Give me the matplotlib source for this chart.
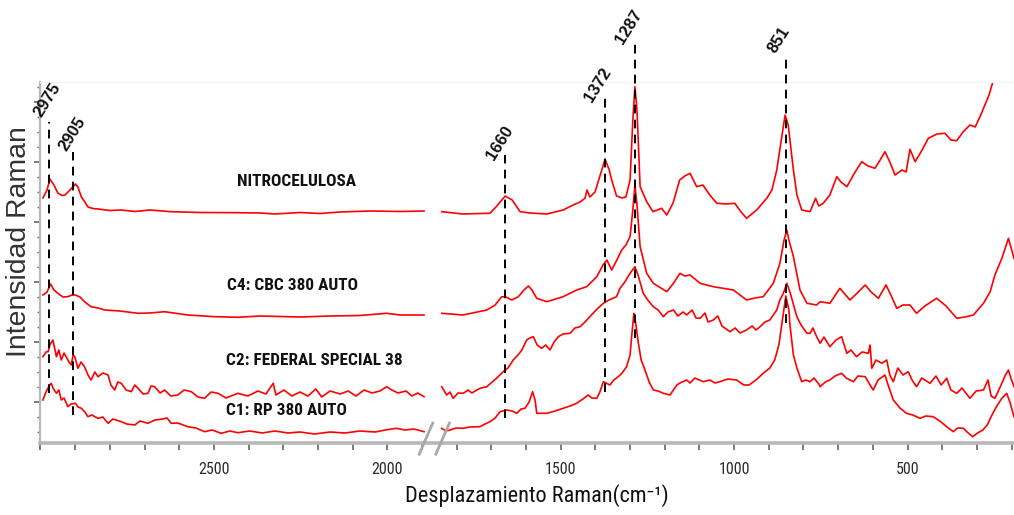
import numpy as np
import matplotlib
matplotlib.use("Agg")
import matplotlib.pyplot as plt
from matplotlib import font_manager
from matplotlib.ticker import FixedLocator, MultipleLocator, NullFormatter
from matplotlib.lines import Line2D

# ---------------------------------------------------------------- data
# Raman shift (cm-1) and relative intensity (a.u., stacked offsets included)
nitro_w = [2993, 2981, 2973, 2961, 2950, 2938, 2929, 2915, 2899, 2892, 2882, 2872, 2863, 2849, 2834,
           2800, 2768, 2728, 2684, 2624, 2540, 2431, 2367, 2324, 2252, 2194, 2136, 2050, 1963, 1894,
           1843, 1782, 1733, 1704, 1684, 1660, 1640, 1617, 1589, 1540, 1493, 1464, 1444, 1430, 1424,
           1416, 1401, 1386, 1372, 1360, 1353, 1339, 1323, 1312, 1300, 1292, 1286, 1280, 1271, 1252,
           1234, 1209, 1194, 1176, 1157, 1142, 1127, 1108, 1090, 1070, 1050, 1023, 998, 980, 964,
           935, 906, 891, 877, 864, 853, 844, 829, 819, 805, 781, 765, 756, 743, 724, 704, 692, 675,
           651, 632, 614, 594, 579, 565, 551, 536, 516, 504, 493, 478, 458, 440, 415, 392, 375, 358,
           340, 320, 305, 291, 277, 265, 255]
nitro_i = [245, 253, 264, 258, 250, 247.5, 248, 253, 259, 256, 246, 241, 236, 234.5, 234,
           232.5, 233, 231.5, 233, 231.3, 230.5, 230.3, 230, 229, 230.5, 229.5, 231, 232, 231.5, 232,
           231.3, 229, 229.5, 229.7, 237, 247, 243, 231.3, 230, 229, 233, 238, 241, 244.7, 253,
           246, 251, 268, 283.7, 273, 263, 247, 245, 246, 263, 323, 356.3, 333, 256.3, 241.3,
           231.3, 234.7, 228, 240, 263, 267, 269.7, 256.3, 258, 248, 239.7, 239, 239.7, 231, 224.7,
           233, 244.7, 253, 273, 303, 328, 318, 273, 248, 233, 231.3, 244.7, 237, 239.7, 248, 266.3, 261, 256.3,
           271, 281.3, 277, 274.7, 283, 291.3, 281, 268, 273, 271, 293.7, 281.3, 293, 304.7, 309, 309.7, 303, 302.3,
           311, 318, 316, 326.3, 338, 348, 359.7]

c4_w = [2993, 2981, 2971, 2961, 2950, 2935, 2921, 2909, 2899, 2886, 2873, 2854, 2834, 2815, 2771,
        2719, 2684, 2642, 2575, 2498, 2431, 2367, 2252, 2165, 2079, 2002, 1963, 1894,
        1843, 1782, 1713, 1689, 1670, 1658, 1641, 1622, 1606, 1593, 1583, 1569, 1540, 1493, 1454,
        1425, 1396, 1378, 1367, 1353, 1341, 1324, 1312, 1300, 1292, 1286, 1280, 1271, 1252, 1233,
        1194, 1175, 1156, 1142, 1127, 1098, 1060, 1002, 964, 940, 916, 887, 868, 856, 848, 842,
        829, 810, 790, 762, 752, 724, 695, 666, 642, 622, 605, 584, 562, 548, 531, 513, 493, 474,
        450, 416, 389, 358, 334, 310, 281, 262, 248, 228, 209, 193]
c4_i = [148, 151, 159, 153, 149.7, 146, 146.3, 148, 148, 146, 141.3, 136.3, 135, 133, 132,
        129.7, 130, 131.3, 128, 126.3, 125.7, 127, 126, 127, 127.5, 129.7, 128, 128,
        129.7, 128, 133, 138, 146.3, 146, 143, 146.3, 153, 157, 153, 144.7, 141.3, 146.3, 153,
        156.3, 166.3, 178, 183, 173, 181, 193, 198, 206.3, 233, 258, 238, 196.3, 169.7, 159.7,
        151.3, 159.7, 169.7, 167, 168, 159.7, 156.3, 153, 143, 145, 146.3, 159.7, 179.7, 203, 213, 203,
        186.3, 153, 139.7, 138, 141.3, 139.7, 154.7, 143, 151, 158, 151, 144.7, 158, 148, 134.7, 138, 138, 129.7,
        137, 144.7, 137, 124.7, 126, 128, 139.7, 151, 168, 184.7, 204.7, 184.7]

c2_w = [2993, 2984, 2978, 2973, 2964, 2954, 2947, 2940, 2932, 2926, 2918, 2911, 2906, 2901, 2892,
        2883, 2873, 2863, 2854, 2843, 2834, 2820, 2805, 2797, 2786, 2777, 2767, 2753, 2738, 2728,
        2719, 2704, 2690, 2681, 2671, 2655, 2642, 2624, 2604, 2586, 2565, 2546, 2527, 2508, 2488,
        2465, 2431, 2402, 2373, 2350, 2329, 2321, 2298, 2275, 2252, 2229, 2206, 2189, 2165, 2136,
        2113, 2090, 2067, 2044, 2021, 2002, 1987, 1969, 1946, 1929, 1912, 1894,
        1843, 1829, 1819, 1810, 1796, 1781, 1767, 1756, 1742, 1730, 1713, 1701, 1685, 1666, 1652,
        1637, 1623, 1612, 1598, 1589, 1579, 1568, 1555, 1543, 1531, 1519, 1507, 1493, 1473, 1459,
        1444, 1430, 1416, 1398, 1377, 1361, 1339, 1329, 1315, 1300, 1286, 1277, 1262, 1249, 1233,
        1219, 1204, 1191, 1175, 1162, 1147, 1137, 1121, 1110, 1098, 1084, 1075, 1060, 1047, 1035,
        1012, 997, 983, 964, 948, 937, 925, 911, 897, 877, 868, 858, 848, 839, 819, 807, 790, 781,
        773, 762, 752, 741, 724, 706, 690, 675, 663, 647, 631, 613, 608, 603, 591, 574, 560, 551,
        541, 528, 513, 498, 487, 474, 459, 435, 418, 403, 387, 375, 358, 343, 320, 302, 281, 268,
        259, 248, 228, 219, 209, 202, 193]
c2_i = [86.3, 91, 91.3, 98, 103, 86.3, 93, 83, 90, 86.3, 81, 78, 88, 86.3, 74.7,
        81, 76.3, 68, 63, 71, 66.3, 70, 68, 58, 53, 61, 59.7, 53, 51.3, 58,
        54.7, 49, 49.7, 57, 56.3, 50, 53, 47, 48, 53, 51.3, 46, 44.7, 51, 49.7,
        45, 49.7, 47, 52, 49, 59.7, 48, 53, 47, 51, 47, 54, 46, 52, 49,
        52, 47, 53, 50, 52, 56.3, 53, 50, 52, 47, 50, 46.3,
        56.3, 48, 51, 44.7, 50, 49.7, 53, 50, 53, 55, 56.3, 60, 64.7, 71.3, 75,
        83, 88, 93, 103, 105, 106.3, 98, 94.7, 98, 93, 101, 106.3, 109, 109.7, 115,
        116.3, 121, 126.3, 133, 139.7, 143, 146.3, 154.7, 161, 169.7, 176.3, 168, 149.7, 143, 136.3,
        133, 126.3, 131, 133, 127, 131, 128, 133, 125, 124.7, 130, 121, 123, 127, 117,
        111.3, 115, 110, 113, 117, 113, 116.3, 121, 123, 133, 143, 149.7, 159.7, 151, 126.3, 118, 109.7, 109.7,
        115, 106.3, 99.7, 106, 96.3, 103, 106.3, 89.7, 93, 86.3, 91, 89.7, 98, 74.7, 83, 79.7, 83, 68,
        61.3, 75, 68, 71.3, 63, 56.3, 65, 59.7, 67, 58, 64.7, 53, 49.7, 55, 44.7, 52, 53, 63,
        47, 44.7, 59.7, 67, 73, 65, 56.3]

c1_w = [2993, 2984, 2975, 2969, 2964, 2954, 2947, 2940, 2932, 2921, 2912, 2899, 2892, 2882, 2872,
        2863, 2852, 2834, 2820, 2805, 2791, 2767, 2751, 2728, 2713, 2690, 2670, 2652, 2635, 2623,
        2604, 2575, 2552, 2527, 2505, 2479, 2454, 2431, 2396, 2361, 2324, 2286, 2252, 2209, 2165,
        2122, 2079, 2035, 2006, 1973, 1949, 1923, 1894,
        1843, 1831, 1819, 1802, 1781, 1762, 1733, 1718, 1704, 1689, 1675, 1656, 1640, 1627, 1614,
        1603, 1591, 1581, 1574, 1569, 1540, 1516, 1493, 1473, 1454, 1436, 1421, 1410, 1396, 1387,
        1377, 1370, 1358, 1347, 1334, 1323, 1310, 1300, 1295, 1289, 1283, 1276, 1268, 1257, 1245,
        1233, 1219, 1204, 1185, 1165, 1156, 1137, 1127, 1113, 1089, 1070, 1055, 1041, 1018, 993,
        972, 957, 937, 916, 897, 883, 871, 858, 851, 842, 839, 829, 819, 805, 793, 781, 770, 757,
        752, 737, 724, 709, 690, 677, 656, 643, 622, 608, 599, 585, 565, 556, 541, 522, 503, 485,
        464, 447, 426, 407, 387, 368, 356, 339, 325, 312, 298, 283, 270, 259, 246, 228, 214, 204, 193]
c1_i = [43, 51, 57, 59.7, 55, 49.7, 53, 43, 45, 36.3, 39, 39.7, 36, 34.7, 31,
        26.3, 28, 24.7, 26, 19.7, 24, 21.3, 19, 18, 22, 19.7, 23, 23.7, 25, 19.7,
        20, 16.3, 15, 11.3, 13, 9.7, 12, 10.3, 12, 10, 12, 10, 11, 9, 11,
        10, 12, 11, 13, 14.7, 13, 14, 11.3,
        14.7, 12, 13, 15, 14.7, 16, 16.3, 19, 21.3, 25, 31.3, 33, 32, 29.7, 34,
        34.7, 41, 51.3, 43, 29.7, 29.7, 32, 34.7, 37, 39.7, 44, 48, 45, 44.7, 51,
        61.3, 60, 58, 63, 66.3, 70, 76.3, 88, 108, 129.7, 118, 99.7, 83, 73, 61,
        53, 52, 49.7, 48, 58, 60, 63, 60, 65, 61.3, 63, 60, 61.3, 64, 63,
        58, 58, 63, 69.7, 75, 83, 98, 129.7, 147, 133, 118, 88, 75, 61.3, 63, 61.3, 65, 59.7,
        56.3, 61, 63, 67, 69.7, 65, 61.3, 67, 66.3, 58, 53, 63, 68, 58, 43, 35, 29.7, 28,
        24.7, 27, 26.3, 22, 16.3, 11.3, 15, 14.7, 10, 6.3, 10, 13, 18, 26.3, 35, 44.7, 49.7, 40, 26.3]

spectra = [
    ("NITROCELULOSA", nitro_w, nitro_i),
    ("C4: CBC 380 AUTO", c4_w, c4_i),
    ("C2: FEDERAL SPECIAL 38", c2_w, c2_i),
    ("C1: RP 380 AUTO", c1_w, c1_i),
]

peak_positions = [2975, 2905, 1660, 1372, 1287, 851]
peak_labels = ["2975", "2905", "1660", "1372", "1287", "851"]

x_ticks = [2500, 2000, 1500, 1000, 500]

# ---------------------------------------------------------------- fonts
plt.rcParams["font.family"] = ["Liberation Sans", "DejaVu Sans"]


def pick_narrow():
    """Return text properties for a narrow sans face if one is installed."""
    fl = font_manager.fontManager.ttflist
    names = {f.name for f in fl}
    for nm in ("Liberation Sans Narrow", "Arial Narrow", "Roboto Condensed",
               "Open Sans Condensed", "Noto Sans Condensed"):
        if nm in names:
            return {"family": [nm, "DejaVu Sans"]}
    for f in fl:
        if "Narrow" in f.name or "Condensed" in f.name:
            return {"family": [f.name, "DejaVu Sans"]}
    for f in fl:
        if str(f.stretch) in ("condensed", "semi-condensed", "extra-condensed"):
            return {"family": [f.name, "DejaVu Sans"], "fontstretch": "condensed"}
    return {"family": ["Liberation Sans", "DejaVu Sans"]}


narrow_kw = pick_narrow()

# ---------------------------------------------------------------- figure
W, H = 1014, 515
fig = plt.figure(figsize=(W / 100, H / 100), dpi=100)
ax = fig.add_axes([0.0399, 0.1398, 0.9601, 0.7010])
ax.set_xlim(3000, 193)
ax.set_ylim(0, 361)

# the spectra are recorded in two windows with a gap around 1865 cm-1
gap = 1865
for name, w, inten in spectra:
    w = np.asarray(w, float)
    inten = np.asarray(inten, float)
    for m in (w > gap, w < gap):
        ax.plot(w[m], inten[m], color="#ff0000", lw=1.2, solid_joinstyle="round")

# sample names
name_pos = {
    "NITROCELULOSA": (2261, 261, "center"),
    "C4: CBC 380 AUTO": (2463, 157.5, "left"),
    "C2: FEDERAL SPECIAL 38": (2465, 82.5, "left"),
    "C1: RP 380 AUTO": (2465, 32.5, "left"),
}
name_texts = {}
for name, _, _ in spectra:
    x, y, ha = name_pos[name]
    name_texts[name] = ax.text(x, y, name, ha=ha, va="center", fontsize=12.5,
                               fontweight="bold", color="#111111", **narrow_kw)

# dashed peak markers with rotated labels
marker_span = [(50, 321), (28, 291), (25, 288), (51, 348), (105, 400), (120, 385)]
label_offset = [(-2, 22), (-1, 18), (-5, 12), (-7, 10), (-6, 16), (-7, 18)]
for pos, lab, (y0, y1), (dx, dy) in zip(peak_positions, peak_labels, marker_span, label_offset):
    ax.plot([pos, pos], [y0, y1], color="black", lw=1.4, ls=(0, (4.5, 3.2)),
            clip_on=False, zorder=5)
    ax.annotate(lab, xy=(pos, y1), xytext=(dx, dy), textcoords="offset pixels",
                ha="center", va="center", rotation=58, fontsize=12,
                fontweight="bold", color="#111111", annotation_clip=False)

# spines and ticks
ax.spines["right"].set_visible(False)
ax.spines["top"].set_color("#f2f2f2")
ax.spines["top"].set_linewidth(0.8)
ax.spines["bottom"].set_color("#b8b8b8")
ax.spines["bottom"].set_linewidth(2.6)
ax.spines["left"].set_color("#b8b8b8")
ax.spines["left"].set_linewidth(1.6)

ax.xaxis.set_major_locator(FixedLocator(x_ticks))
ax.xaxis.set_minor_locator(MultipleLocator(100))
ax.tick_params(axis="x", which="both", direction="out", length=5, width=1.1,
               color="#555555", labelsize=11.5, labelcolor="#2a2a2a", pad=9)

ax.yaxis.set_major_locator(FixedLocator(np.arange(41, 361, 60)))
ax.yaxis.set_minor_locator(FixedLocator(np.arange(11, 361, 15)))
ax.yaxis.set_major_formatter(NullFormatter())
ax.tick_params(axis="y", which="major", direction="out", length=4, width=1.1, color="#555555")
ax.tick_params(axis="y", which="minor", direction="out", length=2.5, width=1.0, color="#666666")

# axis break marks
trans = ax.get_xaxis_transform()
for xa, xb in ((1908, 1869), (1860, 1821)):
    ax.add_line(Line2D([xa, xb], [-0.031, 0.055], transform=trans, color="#a8a8a8",
                       lw=2.0, clip_on=False, zorder=6))

# axis titles
xlab = fig.text(537 / W, 1 - 496 / H, "Desplazamiento Raman(cm\u207b\u00b9)", ha="center",
                va="center", fontsize=17, color="#111111", **narrow_kw)
ylab = fig.text(19 / W, 1 - 242 / H, "Intensidad Raman", ha="center", va="center",
                rotation=90, fontsize=20, color="#333333")

# size the texts to the extents they occupy on the page
fig.canvas.draw()
rend = fig.canvas.get_renderer()


def fit(t, target, vertical=False):
    bb = t.get_window_extent(rend)
    cur = bb.height if vertical else bb.width
    t.set_fontsize(t.get_fontsize() * target / cur)


for t in ax.get_xticklabels():
    t.set(**narrow_kw)
fit(name_texts["C2: FEDERAL SPECIAL 38"], 176)
size = name_texts["C2: FEDERAL SPECIAL 38"].get_fontsize()
for t in name_texts.values():
    t.set_fontsize(size)
fit(xlab, 263)
fit(ylab, 230, vertical=True)

fig.savefig("out.png", dpi=100)
